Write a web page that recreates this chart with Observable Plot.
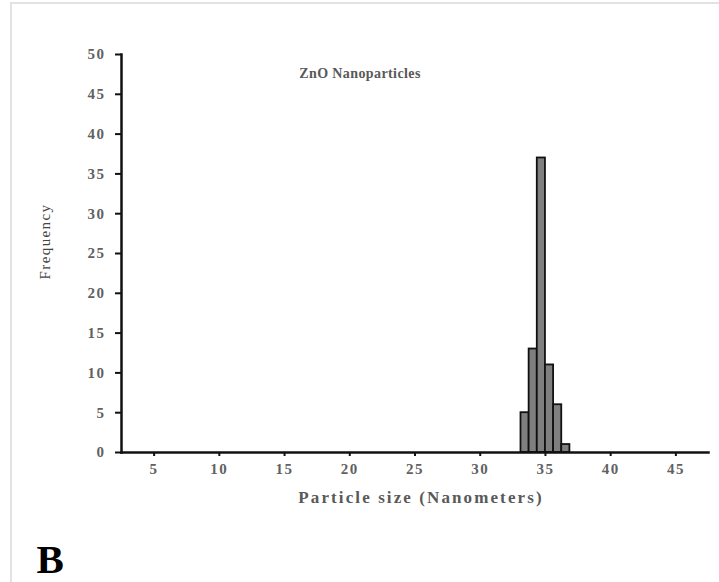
<!DOCTYPE html>
<html>
<head>
<meta charset="utf-8">
<script src="https://cdn.jsdelivr.net/npm/d3@7"></script>
<script src="https://cdn.jsdelivr.net/npm/@observablehq/plot@0.6"></script>
<style>
  html, body { margin: 0; padding: 0; background: #fff; }
  #wrap { position: relative; width: 719px; height: 582px; overflow: hidden; }
  #border { position: absolute; left: 10px; top: 2px; width: 720px; height: 600px;
            border-top: 2px solid #e2e2e2; border-left: 2px solid #e2e2e2; box-sizing: border-box; }
  #chart { position: absolute; left: 0; top: 0; }
</style>
</head>
<body>
<div id="wrap"><div id="border"></div><div id="chart"></div></div>
<script>
// Data
const binStart = [33.125, 33.75, 34.375, 35, 35.625, 36.25];
const binEnd   = [33.75, 34.375, 35, 35.625, 36.25, 36.875];
const counts   = [5, 13, 37, 11, 6, 1];
const xTicks = [5, 10, 15, 20, 25, 30, 35, 40, 45];
const yTicks = [0, 5, 10, 15, 20, 25, 30, 35, 40, 45, 50];
const chartTitle = "ZnO Nanoparticles";
const xLabel = "Particle size (Nanometers)";
const yLabel = "Frequency";
const panelLabel = "B";

const bars = counts.map((c, i) => ({x1: binStart[i], x2: binEnd[i], y: c}));
const serif = "'Liberation Serif', 'Times New Roman', serif";

const chart = Plot.plot({
  width: 719,
  height: 582,
  marginLeft: 121,
  marginRight: 11,
  marginTop: 54,
  marginBottom: 130,
  style: { fontFamily: serif, background: "transparent" },
  x: { domain: [2.5, 47.5] },
  y: { domain: [0, 50] },
  marks: [
    Plot.rectY(bars, { x1: "x1", x2: "x2", y: "y", fill: "#7f7f7f", stroke: "#111", strokeWidth: 1.8 }),
    Plot.axisY({ ticks: yTicks, tickSize: 6, tickPadding: 10, tickFormat: d => String(d), label: null,
                 fontSize: 15, fontWeight: "bold", fill: "#616161", stroke: "#111", strokeWidth: 2 }),
    Plot.axisX({ ticks: xTicks, tickSize: 4, tickPadding: 7, tickFormat: d => String(d), label: null,
                 fontSize: 15, fontWeight: "bold", fill: "#616161", stroke: "#111", strokeWidth: 2 }),
    Plot.frame({ anchor: "left", stroke: "#111", strokeWidth: 2.5 }),
    Plot.frame({ anchor: "bottom", stroke: "#111", strokeWidth: 2.5 }),
    Plot.text([chartTitle], { frameAnchor: "top", dx: -55, dy: 14, fontSize: 14, fontWeight: "bold", fill: "#595959" }),
    Plot.text([xLabel], { frameAnchor: "bottom", dx: 6, dy: 50, fontSize: 17, fontWeight: "bold", fill: "#595959" }),
    Plot.text([yLabel], { frameAnchor: "left", textAnchor: "middle", dx: -76, dy: -12, rotate: -90, fontSize: 15, fill: "#444" }),
    Plot.text([panelLabel], { frameAnchor: "bottom-left", dx: -85, dy: 120, fontSize: 41, fontWeight: "bold", fill: "#000" })
  ]
});
// letter spacing for the wide-set labels
const spacing = new Map([[xLabel, "2.1px"], [yLabel, "1.4px"], [chartTitle, "0.4px"]]);
const tickText = new Set([...xTicks, ...yTicks].map(String));
d3.select(chart).selectAll("text").each(function () {
  const s = spacing.get(this.textContent);
  if (s) this.setAttribute("letter-spacing", s);
  else if (tickText.has(this.textContent)) this.setAttribute("letter-spacing", "1.5px");
});
document.getElementById("chart").appendChild(chart);
</script>
</body>
</html>
